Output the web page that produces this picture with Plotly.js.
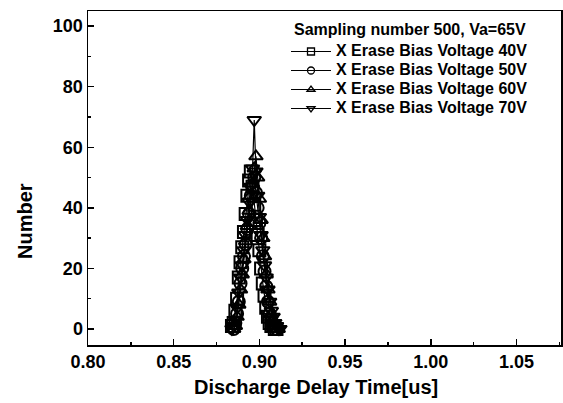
<!DOCTYPE html>
<html><head><meta charset="utf-8">
<script src="https://cdn.plot.ly/plotly-3.0.1.min.js"></script>
<style>html,body{margin:0;padding:0;background:#fff}#plot{width:563px;height:403px}</style>
</head><body><div id="plot"></div>
<script>
const legendTitle = "Sampling number 500, Va=65V";
const xTitle = "Discharge Delay Time[us]";
const yTitle = "Number";
const seriesNames = ["X Erase Bias Voltage 40V","X Erase Bias Voltage 50V","X Erase Bias Voltage 60V","X Erase Bias Voltage 70V"];
const symbols = ["square-open","circle-open","triangle-up-open","triangle-down-open"];
const xTickVals = [0.80,0.85,0.90,0.95,1.00,1.05];
const xTickText = ["0.80","0.85","0.90","0.95","1.00","1.05"];
const yTickVals = [0,20,40,60,80,100];
const yTickText = ["0","20","40","60","80","100"];

const x40 = [0.884,0.885,0.886,0.887,0.888,0.889,0.890,0.891,0.892,0.893,0.894,0.895,0.896,0.897,0.898,0.899,0.900,0.901,0.902,0.903,0.904,0.905,0.906,0.907,0.908,0.909,0.910];
const y40 = [1,2,6,10,17,22,27,32,38,44,49,52,47,41,36,31,26,20,15,11,7,4,2,1,1,0,0];
const x50 = [0.885,0.886,0.887,0.888,0.889,0.890,0.891,0.892,0.893,0.894,0.895,0.896,0.897,0.898,0.899,0.900,0.901,0.902,0.903,0.904,0.905,0.906,0.907,0.908,0.909,0.910];
const y50 = [0,2,5,9,15,20,24,28,33,38,44,47,50,45,40,35,30,24,19,14,9,5,3,1,1,0];
const x60 = [0.885,0.886,0.887,0.888,0.889,0.890,0.891,0.892,0.893,0.894,0.895,0.896,0.897,0.898,0.899,0.900,0.901,0.902,0.903,0.904,0.905,0.906,0.907,0.908,0.909,0.910,0.911];
const y60 = [0,1,4,8,13,18,23,29,34,39,44,48,53,57,50,43,36,30,24,18,13,9,5,3,1,0,0];
const x70 = [0.884,0.885,0.886,0.887,0.888,0.889,0.890,0.891,0.892,0.893,0.894,0.895,0.896,0.897,0.898,0.899,0.900,0.901,0.902,0.903,0.904,0.905,0.906,0.907,0.908,0.909,0.910,0.911,0.912];
const y70 = [0,1,3,7,12,17,21,26,31,36,42,47,53,69,52,44,37,31,26,21,17,13,9,6,4,2,1,0,0];

const xs = [x40,x50,x60,x70];
const ys = [y40,y50,y60,y70];

const FAM = "Liberation Sans, Arial, Helvetica, sans-serif";
const f = (s)=>({family:FAM, size:s, color:"#000"});
const bold = (t)=>"<b>"+t+"</b>";

const traces = [];
seriesNames.forEach((n,i)=>{
  traces.push({x:xs[i], y:ys[i], mode:"lines+markers", name:n, showlegend:false,
    line:{color:"#000", width:1.2},
    marker:{symbol:symbols[i], size:12, color:"#000", line:{width:2,color:"#000"}}});
});
seriesNames.forEach((n,i)=>{
  traces.push({x:[null], y:[null], mode:"lines+markers",
    name:'<span style="font-size:16px">'+bold(n)+'</span>', showlegend:true,
    line:{color:"#000", width:1},
    marker:{symbol:symbols[i], size:7, color:"#000", line:{width:1.3,color:"#000"}}});
});

const layout = {
  width:563, height:403,
  margin:{l:88, r:2, t:11, b:58},
  paper_bgcolor:"#fff", plot_bgcolor:"#fff",
  font:f(14),
  showlegend:true,
  legend:{x:(286-88)/473, y:1-(37-11)/334, xanchor:"left", yanchor:"top", bgcolor:"rgba(255,255,255,0)",
    font:f(12), tracegroupgap:0, itemwidth:40, borderwidth:0},
  xaxis:{range:[0.8,1.076], tickvals:xTickVals, ticktext:xTickText.map(bold),
    ticks:"inside", ticklen:6, tickwidth:1.5, tickcolor:"#000",
    minor:{dtick:0.025, tick0:0.8, ticks:"inside", ticklen:3, tickcolor:"#000"},
    showline:true, linecolor:"#000", linewidth:1.5, mirror:true, showgrid:false, zeroline:false,
    tickfont:f(18)},
  yaxis:{range:[-5.3,105], tickvals:yTickVals, ticktext:yTickText.map(bold),
    ticks:"inside", ticklen:6, tickwidth:1.5, tickcolor:"#000",
    minor:{dtick:10, tick0:0, ticks:"inside", ticklen:3, tickcolor:"#000"},
    showline:true, linecolor:"#000", linewidth:1.5, mirror:true, showgrid:false, zeroline:false,
    tickfont:f(18)},
  annotations:[
    {text:bold(legendTitle), xref:"paper", yref:"paper", x:(292-88)/473, y:1-(30-11)/334,
     xanchor:"left", yanchor:"middle", showarrow:false, font:f(16)},
    {text:bold(xTitle), xref:"paper", yref:"paper", x:(316-88)/473, y:1-(387-11)/334,
     xanchor:"center", yanchor:"middle", showarrow:false, font:f(20)},
    {text:bold(yTitle), xref:"paper", yref:"paper", x:(25-88)/473, y:1-(221-11)/334,
     xanchor:"center", yanchor:"middle", showarrow:false, textangle:-90, font:f(20)}
  ]
};
Plotly.newPlot("plot", traces, layout, {displayModeBar:false, staticPlot:true});
</script></body></html>
